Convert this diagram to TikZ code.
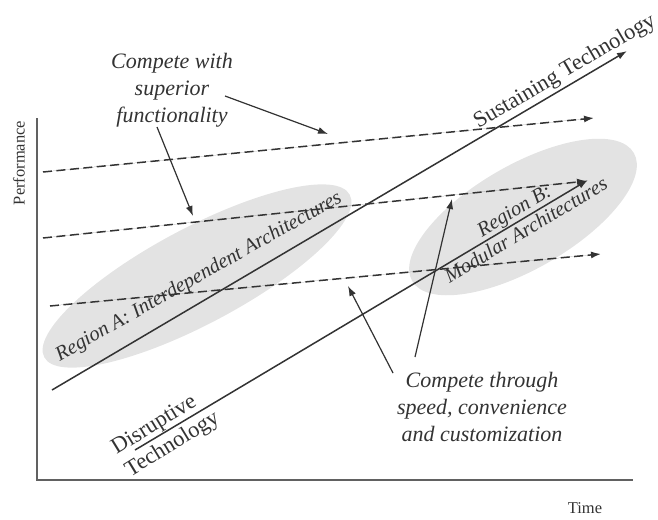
\documentclass[tikz,border=0pt]{standalone}
\usepackage{fontspec}
\setmainfont{Liberation Serif}
\usetikzlibrary{arrows.meta,shapes.geometric}
\definecolor{ink}{gray}{0.2}
\definecolor{axisgray}{gray}{0.38}
\definecolor{region}{gray}{0.89}
\begin{document}
\begin{tikzpicture}[x=1pt, y=-1pt,
  tip/.style={-{Latex[length=10pt,width=7pt]}},
  trend/.style={tip, draw=ink, fill=ink, line width=1.5pt},
  level/.style={tip, draw=ink, fill=ink, line width=1.5pt, dash pattern=on 9pt off 4.5pt},
  pointer/.style={tip, draw=ink, fill=ink, line width=1.2pt},
  blob/.style={ellipse, fill=region, inner sep=0pt},
  note/.style={text=ink, font=\fontsize{22}{27}\selectfont\itshape, align=center},
  tech/.style={text=ink, font=\fontsize{22.5}{26}\selectfont, inner sep=0pt},
  zone/.style={text=ink, font=\fontsize{20.5}{23}\selectfont\itshape, inner sep=0pt, align=center},
  axislabel/.style={text=ink, font=\fontsize{16.5}{18}\selectfont, inner sep=0pt}]
  \useasboundingbox (0,0) rectangle (658,519);
  % shaded regions
  \node[blob, minimum width=346pt, minimum height=96pt, rotate=28] (regA) at (197,276) {};
  \node[blob, minimum width=256pt, minimum height=104pt, rotate=30] (regB) at (523,217) {};
  % axes
  \coordinate (top) at (37,118);
  \coordinate (orig) at (37,480);
  \coordinate (right) at (633,480);
  \draw[axisgray, line width=1.8pt] (top) -- (orig) -- (right);
  \node[axislabel, rotate=90] (perf) at (19,163) {Performance};
  \node[axislabel] (time) at (585,508) {Time};
  % performance levels
  \coordinate (lv1s) at (43,172);  \coordinate (lv1e) at (594,118);
  \coordinate (lv2s) at (43,238);  \coordinate (lv2e) at (587,181);
  \coordinate (lv3s) at (50,306);  \coordinate (lv3e) at (601,254);
  \draw[level] (lv1s) -- (lv1e);
  \draw[level] (lv2s) -- (lv2e);
  \draw[level] (lv3s) -- (lv3e);
  % technology trajectories
  \coordinate (sus0) at (52,390);  \coordinate (sus1) at (627,51);
  \coordinate (dis0) at (135,450); \coordinate (dis1) at (588,180);
  \draw[trend] (sus0) -- (sus1);
  \draw[trend] (dis0) -- (dis1);
  \node[tech, rotate=30.4] (sus) at (565,72) {Sustaining Technology};
  \node[tech, rotate=31.5, align=left] (dis) at (166,434) {Disruptive\\Technology};
  \node[zone, rotate=29.5] (zoneA) at (199,277) {Region A: Interdependent Architectures};
  \node[zone, rotate=31] (zoneB) at (520,220) {Region B:\\Modular Architectures};
  % competition notes
  \node[note] (func) at (172,90) {Compete with\\superior\\functionality};
  \node[note] (speed) at (482,407) {Compete through\\speed, convenience\\and customization};
  \coordinate (f1) at (225,96);   \coordinate (f1e) at (328,134);
  \coordinate (f2) at (157,127);  \coordinate (f2e) at (193,216);
  \coordinate (s1) at (393,373);  \coordinate (s1e) at (348,286);
  \coordinate (s2) at (415,357);  \coordinate (s2e) at (452,199);
  \draw[pointer] (f1) -- (f1e);
  \draw[pointer] (f2) -- (f2e);
  \draw[pointer] (s1) -- (s1e);
  \draw[pointer] (s2) -- (s2e);
\end{tikzpicture}
\end{document}
